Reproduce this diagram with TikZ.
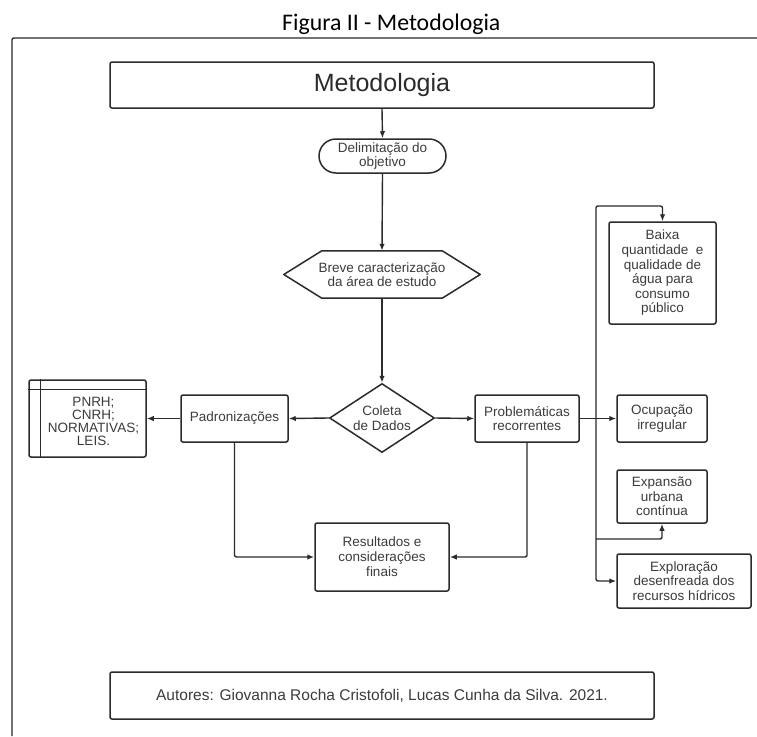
\documentclass[tikz,border=0pt]{standalone}
\usepackage{fontspec}
\setmainfont{Liberation Sans}
\newfontfamily\titlefont{Carlito}
\usetikzlibrary{shapes.geometric,arrows.meta,calc}
\definecolor{linec}{HTML}{2B2B2B}
\definecolor{txtc}{HTML}{3C3C3C}
\begin{document}
\begin{tikzpicture}[x=1pt,y=-1pt,
  smalltxt/.style={font=\fontsize{13.5}{14.6}\selectfont},
  box/.style={draw=linec, line width=1.5pt, rounded corners=2pt, inner sep=0pt, align=center, text=txtc, smalltxt},
  arr/.style={draw=linec, line width=1.4pt, -{Latex[length=7pt,width=5.5pt]}},
  ln/.style={draw=linec, line width=1.4pt}]
\useasboundingbox (0,0) rectangle (757,736);
\fill[white] (0,0) rectangle (757,736);
\node[anchor=base west, inner sep=0pt, font=\titlefont\fontsize{23.8}{27}\selectfont] (title) at (282,30) {Figura II - Metodologia};
\draw[ln, rounded corners=2pt] (12,736) -- (12,38) -- (757,38);

\node[box, minimum width=544, minimum height=46, text=linec, font=\fontsize{25}{30}\selectfont] (met) at (382,85) {Metodologia};
\node[box, rounded corners=17pt, minimum width=127, minimum height=34] (del) at (382.5,156) {Delimitação do\\objetivo};
\node[inner sep=0pt, minimum width=196, minimum height=47, align=center, text=txtc, smalltxt] (hex) at (382,274.5) {Breve caracterização\\da área de estudo};
\draw[ln, line width=1.5pt, line join=round] (hex.west) -- ($(hex.north west)+(38,0)$) -- ($(hex.north east)+(-38,0)$) -- (hex.east) -- ($(hex.south east)+(-38,0)$) -- ($(hex.south west)+(38,0)$) -- cycle;
\node[box, diamond, rounded corners=0pt, shape aspect=1.52, minimum width=105, minimum height=69] (col) at (382,418) {Coleta\\de Dados};

\node[box, minimum width=107, minimum height=47] (pad) at (234.5,418.5) {Padronizações};
\node[box, minimum width=117, minimum height=77] (tab) at (87.5,418.5) {};
\node[align=center, inner sep=0pt, text=txtc, font=\fontsize{13.5}{13}\selectfont] (tabtxt) at (93.5,421.5) {PNRH;\\CNRH;\\NORMATIVAS;\\LEIS.};
\draw[ln] ($(tab.north west)+(12,0)$) -- ($(tab.south west)+(12,0)$);
\draw[ln] ($(tab.north west)+(0,10)$) -- ($(tab.north east)+(0,10)$);

\node[box, minimum width=104, minimum height=47] (prob) at (527,418.5) {Problemáticas\\recorrentes};
\node[box, minimum width=134, minimum height=68, font=\fontsize{13.5}{15}\selectfont] (res) at (382,557) {Resultados e\\considerações\\finais};

\node[box, minimum width=107, minimum height=102] (baixa) at (662.5,273) {Baixa\\quantidade\ \ e\\qualidade de\\água para\\consumo\\público};
\node[box, minimum width=90, minimum height=47] (ocup) at (662,418.5) {Ocupação\\irregular};
\node[box, minimum width=90, minimum height=53] (expa) at (662,496.5) {Expansão\\urbana\\contínua};
\node[box, minimum width=134, minimum height=54] (expl) at (684,581) {Exploração\\desenfreada dos\\recursos hídricos};

\node[box, minimum width=544, minimum height=47, font=\fontsize{15.5}{18}\selectfont] (aut) at (382,695.5) {Autores: Giovanna Rocha Cristofoli, Lucas Cunha da Silva. 2021.};

\coordinate (j) at (596,418.5);
\coordinate (jtop) at (596,206);
\coordinate (jexp) at (596,539);

\draw[arr] (met.south) -- (del.north);
\draw[arr] (del.south) -- (hex.north);
\draw[arr] (hex.south) -- (col.north);
\draw[arr] (col.west) -- (pad.east);
\draw[arr] (pad.west) -- (tab.east);
\draw[arr] (col.east) -- (prob.west);
\draw[arr] (prob.east) -- (ocup.west);
\draw[arr, rounded corners=2pt] (pad.south) |- (res.west);
\draw[arr, rounded corners=2pt] (prob.south) |- (res.east);
\draw[arr, rounded corners=2pt] (j) -- (jtop) -| (baixa.north);
\draw[arr, rounded corners=2pt] (j) |- (expl.west);
\draw[arr, rounded corners=2pt] (jexp) -| (expa.south);
\end{tikzpicture}
\end{document}
